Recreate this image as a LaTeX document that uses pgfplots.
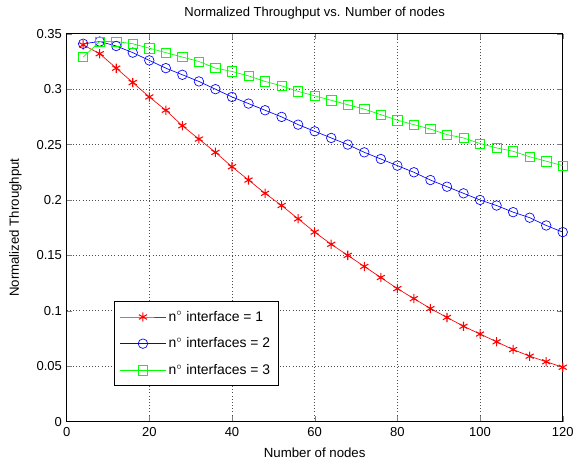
\documentclass[border=0pt]{standalone}
\usepackage{pgfplots}
\pgfplotsset{compat=1.18}
\usepackage{fontspec}
\setmainfont{Liberation Sans}
\begin{document}
\begin{tikzpicture}
\begin{axis}[
  at={(0,0)}, anchor=south west,
  scale only axis,
  width=374.25pt, height=292.5pt,
  xmin=0, xmax=120, ymin=0, ymax=0.35,
  xtick={0,20,...,120},
  ytick={0,0.05,0.1,0.15,0.2,0.25,0.3,0.35},
  yticklabel style={/pgf/number format/fixed,/pgf/number format/precision=2},
  scaled y ticks=false,
  /pgf/number format/assume math mode=true,
  tick label style={font=\fontsize{9.8}{11}\selectfont},
  label style={font=\fontsize{10}{12}\selectfont},
  title style={font=\fontsize{9.8}{11}\selectfont, at={(0.5,1)}, anchor=base, yshift=7pt},
  title={Normalized Throughput vs. Number of nodes},
  xlabel={Number of nodes},
  ylabel={Normalized Throughput},
  xlabel style={at={(0.5,0)}, anchor=base, yshift=-27pt},
  ylabel style={at={(0,0.5)}, anchor=base, yshift=36pt},
  xticklabel style={yshift=-1pt},
  grid=major,
  major grid style={black!70, dotted, line width=0.6pt},
  tick align=inside,
  major tick length=4pt,
  axis line style={black, line width=0.5pt},
  legend style={at={(0.0962,0.310)}, anchor=north west, draw=black, line width=0.5pt, font=\fontsize{10.5}{12}\selectfont, row sep=7pt, inner xsep=4pt, inner ysep=5pt},
  legend cell align=left,
  legend image code/.code={
    \draw[#1, mark repeat=2, mark phase=2] plot coordinates {(0cm,0cm) (0.6cm,0cm) (1.2cm,0cm)};
  },
]
\addplot[red, line width=0.5pt, mark=asterisk, mark size=3.5pt, mark options={line width=0.8pt}] coordinates {
(4,0.340) (8,0.332) (12,0.319) (16,0.306) (20,0.293) (24,0.281) (28,0.267) (32,0.255) (36,0.243) (40,0.230)
(44,0.218) (48,0.206) (52,0.195) (56,0.183) (60,0.171) (64,0.160) (68,0.150) (72,0.140) (76,0.130) (80,0.120)
(84,0.111) (88,0.102) (92,0.094) (96,0.086) (100,0.079) (104,0.072) (108,0.065) (112,0.059) (116,0.054) (120,0.049)
};
\addlegendentry{n$^{\circ}$ interface = 1}
\addplot[blue, line width=0.5pt, mark=o, mark size=3.6pt] coordinates {
(4,0.341) (8,0.343) (12,0.339) (16,0.333) (20,0.326) (24,0.319) (28,0.313) (32,0.307) (36,0.300) (40,0.293)
(44,0.287) (48,0.281) (52,0.275) (56,0.268) (60,0.262) (64,0.256) (68,0.250) (72,0.243) (76,0.237) (80,0.231)
(84,0.225) (88,0.218) (92,0.212) (96,0.206) (100,0.200) (104,0.195) (108,0.189) (112,0.184) (116,0.177) (120,0.171)
};
\addlegendentry{n$^{\circ}$ interfaces = 2}
\addplot[green, line width=0.5pt, mark=square, mark size=3.5pt] coordinates {
(4,0.329) (8,0.343) (12,0.343) (16,0.341) (20,0.337) (24,0.333) (28,0.329) (32,0.325) (36,0.319) (40,0.316)
(44,0.312) (48,0.307) (52,0.303) (56,0.298) (60,0.294) (64,0.290) (68,0.286) (72,0.282) (76,0.277) (80,0.272)
(84,0.268) (88,0.264) (92,0.259) (96,0.256) (100,0.251) (104,0.247) (108,0.244) (112,0.239) (116,0.235) (120,0.231)
};
\addlegendentry{n$^{\circ}$ interfaces = 3}
\end{axis}
\useasboundingbox (-50.25pt,-31.5pt) rectangle (383.25pt,318pt);
\end{tikzpicture}
\end{document}
